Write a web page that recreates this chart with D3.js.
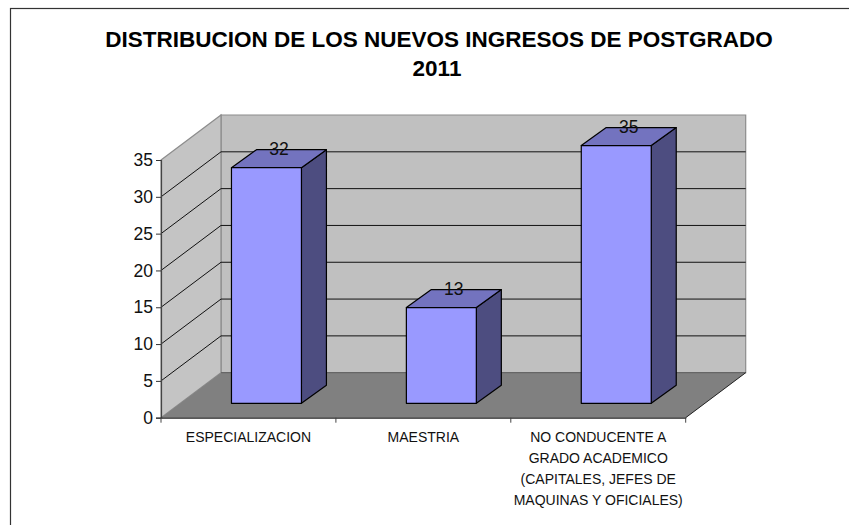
<!DOCTYPE html>
<html>
<head>
<meta charset="utf-8">
<script src="https://cdn.jsdelivr.net/npm/d3@7"></script>
<style>
  html, body { margin: 0; padding: 0; background: #fff; overflow: hidden; }
  svg { display: block; }
  text { font-family: "Liberation Sans", Arial, sans-serif; fill: #111; }
</style>
</head>
<body>
<script>
const width = 849;
const height = 525;

const categories = ["ESPECIALIZACION", "MAESTRIA", "NO CONDUCENTE A GRADO ACADEMICO (CAPITALES, JEFES DE MAQUINAS Y OFICIALES)"];
const values = [32, 13, 35];
const yTicks = [0, 5, 10, 15, 20, 25, 30, 35];
const categoryLines = [
    ["ESPECIALIZACION"],
    ["MAESTRIA"],
    ["NO CONDUCENTE A", "GRADO ACADEMICO", "(CAPITALES, JEFES DE", "MAQUINAS Y OFICIALES)"]
];
const titleLines = ["DISTRIBUCION DE LOS NUEVOS INGRESOS DE POSTGRADO", "2011"];

// floor depth of the fake 3d box, and how far the bars sit inside it
const depth = { x: 60, y: -45 };
const barDepth = { x: 25, y: -18 };
const barInset = { x: 18, y: -14.4 };

const svg = d3.select("body")
    .append("svg")
    .attr("width", width)
    .attr("height", height);

// chart frame, runs off the right and bottom of the picture
svg.append("rect")
    .attr("x", 10.5)
    .attr("y", 8.5)
    .attr("width", 860)
    .attr("height", 540)
    .attr("fill", "#fff")
    .attr("stroke", "#333")
    .attr("stroke-width", 1.2);

const xScale = d3.scaleBand()
    .domain(categories)
    .range([161, 685.7])
    .paddingInner(0.6)
    .paddingOuter(0.3);

const yScale = d3.scaleLinear()
    .domain([0, 35])
    .range([417.7, 160]);

const poly = pts => pts.map(p => p.join(",")).join(" ");

const x0 = xScale.range()[0];
const x1 = xScale.range()[1];
const y0 = yScale(0);
const yTop = yScale(35);

// back wall
svg.append("polygon")
    .attr("points", poly([[x0 + depth.x, yTop + depth.y], [x1 + depth.x, yTop + depth.y], [x1 + depth.x, y0 + depth.y], [x0 + depth.x, y0 + depth.y]]))
    .attr("fill", "#c0c0c0")
    .attr("stroke", "#8c8c8c")
    .attr("stroke-width", 1.2);

// left wall
svg.append("polygon")
    .attr("points", poly([[x0, yTop], [x0 + depth.x, yTop + depth.y], [x0 + depth.x, y0 + depth.y], [x0, y0]]))
    .attr("fill", "#c4c4c4")
    .attr("stroke", "#8c8c8c")
    .attr("stroke-width", 1.2);

// gridlines on both walls
const grid = svg.append("g");
yTicks.filter(d => d > 0 && d < 35).forEach(d => {
    grid.append("path")
        .attr("d", d3.line()([[x0, yScale(d)], [x0 + depth.x, yScale(d) + depth.y], [x1 + depth.x, yScale(d) + depth.y]]))
        .attr("fill", "none")
        .attr("stroke", "#111")
        .attr("stroke-width", 1);
});

// floor
svg.append("polygon")
    .attr("points", poly([[x0, y0], [x1, y0], [x1 + depth.x, y0 + depth.y], [x0 + depth.x, y0 + depth.y]]))
    .attr("fill", "#808080");
svg.append("line")
    .attr("x1", x0 + depth.x)
    .attr("x2", x1 + depth.x)
    .attr("y1", y0 + depth.y)
    .attr("y2", y0 + depth.y)
    .attr("stroke", "#666")
    .attr("stroke-width", 1.2);
svg.append("line")
    .attr("x1", x1)
    .attr("x2", x1 + depth.x)
    .attr("y1", y0)
    .attr("y2", y0 + depth.y)
    .attr("stroke", "#222")
    .attr("stroke-width", 1);

// bars
const bars = svg.append("g").selectAll("g")
    .data(categories)
    .enter()
    .append("g")
    .attr("stroke", "#000")
    .attr("stroke-width", 1.2)
    .attr("stroke-linejoin", "round");

const left = d => xScale(d) + barInset.x;
const right = d => left(d) + xScale.bandwidth();
const top3d = (d, i) => yScale(values[i]) + barInset.y;
const bottom3d = y0 + barInset.y;

bars.append("polygon")
    .attr("fill", "#4d4d80")
    .attr("points", (d, i) => poly([[right(d), top3d(d, i)], [right(d) + barDepth.x, top3d(d, i) + barDepth.y], [right(d) + barDepth.x, bottom3d + barDepth.y], [right(d), bottom3d]]));

bars.append("polygon")
    .attr("fill", "#7373bf")
    .attr("points", (d, i) => poly([[left(d), top3d(d, i)], [left(d) + barDepth.x, top3d(d, i) + barDepth.y], [right(d) + barDepth.x, top3d(d, i) + barDepth.y], [right(d), top3d(d, i)]]));

bars.append("rect")
    .attr("fill", "#9999ff")
    .attr("x", d => left(d))
    .attr("y", (d, i) => top3d(d, i))
    .attr("width", xScale.bandwidth())
    .attr("height", (d, i) => bottom3d - top3d(d, i));

// value labels
svg.append("g").selectAll("text")
    .data(categories)
    .enter()
    .append("text")
    .attr("x", d => left(d) + xScale.bandwidth() / 2 + barDepth.x / 2)
    .attr("y", (d, i) => top3d(d, i) + barDepth.y + 5.5)
    .attr("text-anchor", "middle")
    .attr("font-size", 17.5)
    .text((d, i) => values[i]);

// axes
const yAxis = d3.axisLeft(yScale).tickValues(yTicks).tickSize(5).tickPadding(3);
const xAxis = d3.axisBottom(xScale).tickSize(0).tickFormat("");

const yG = svg.append("g")
    .attr("transform", `translate(${x0}, 0)`)
    .call(yAxis);
yG.selectAll("text").attr("font-size", 17.5).style("fill", "#111").style("font-family", '"Liberation Sans", Arial, sans-serif');
yG.selectAll("line").attr("stroke", "#333");
yG.select(".domain").attr("stroke", "#444").attr("stroke-width", 1.2);

const xG = svg.append("g")
    .attr("transform", `translate(0, ${y0})`)
    .call(xAxis);
xG.select(".domain").attr("stroke", "#222").attr("stroke-width", 1.2);

// category separators sit between the bands, not on them
const step = xScale.step();
xG.selectAll(".sep")
    .data(d3.range(categories.length + 1))
    .enter()
    .append("line")
    .attr("x1", i => x0 + i * step)
    .attr("x2", i => x0 + i * step)
    .attr("y1", 0)
    .attr("y2", 5)
    .attr("stroke", "#444");

// category labels
const labels = svg.append("g").selectAll("text")
    .data(categories)
    .enter()
    .append("text")
    .attr("text-anchor", "middle")
    .attr("font-size", 14);

labels.selectAll("tspan")
    .data((d, i) => categoryLines[i].map(line => ({ line, d })))
    .enter()
    .append("tspan")
    .attr("x", o => xScale(o.d) + xScale.bandwidth() / 2)
    .attr("y", (o, i) => 442 + i * 21)
    .text(o => o.line);

// title
svg.append("g").selectAll("text")
    .data(titleLines)
    .enter()
    .append("text")
    .attr("x", (d, i) => 439 - i * 2)
    .attr("y", (d, i) => 47.3 + i * 28.7)
    .attr("text-anchor", "middle")
    .attr("font-size", 22.5)
    .attr("font-weight", "bold")
    .style("fill", "#000")
    .text(d => d);
</script>
</body>
</html>
